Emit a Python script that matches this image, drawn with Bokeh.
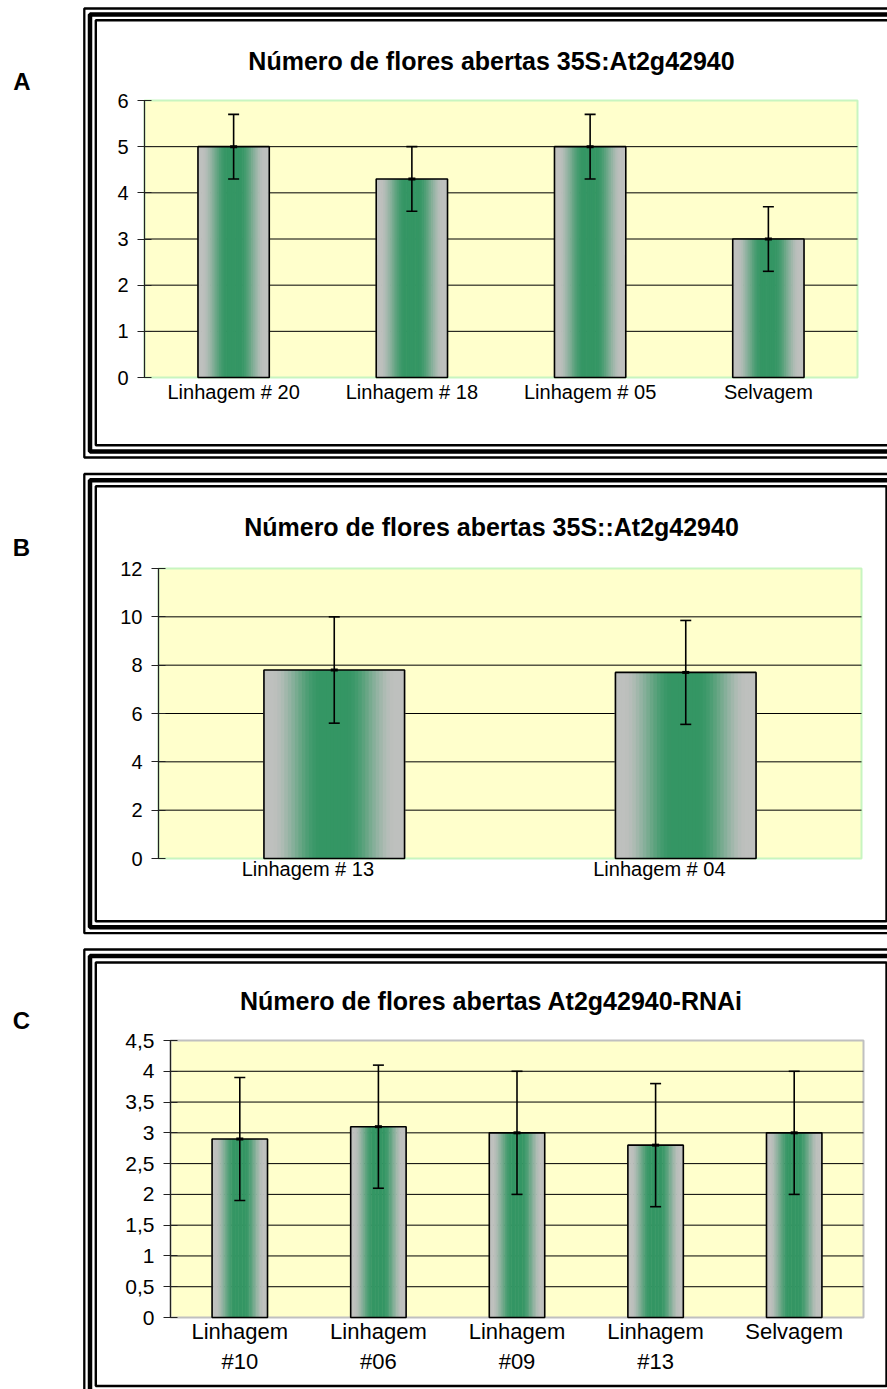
import numpy as np
from bokeh.plotting import figure
from bokeh.models import (Range1d, FixedTicker, Label, Whisker, TeeHead,
                          ColumnDataSource, LinearAxis)
from bokeh.layouts import column
from bokeh.embed import file_html
from bokeh.resources import INLINE

FONT = "Liberation Sans"

# ---------------- data ----------------
a_title = "Número de flores abertas 35S:At2g42940"
a_categories = ["Linhagem # 20", "Linhagem # 18", "Linhagem # 05", "Selvagem"]
a_values = [5.0, 4.3, 5.0, 3.0]
a_errors = [0.7, 0.7, 0.7, 0.7]
a_yticks = [0, 1, 2, 3, 4, 5, 6]
a_ylabels = ["0", "1", "2", "3", "4", "5", "6"]

b_title = "Número de flores abertas 35S::At2g42940"
b_categories = ["Linhagem # 13", "Linhagem # 04"]
b_values = [7.8, 7.7]
b_errors = [2.2, 2.15]
b_yticks = [0, 2, 4, 6, 8, 10, 12]
b_ylabels = ["0", "2", "4", "6", "8", "10", "12"]

c_title = "Número de flores abertas At2g42940-RNAi"
c_categories = ["Linhagem\n#10", "Linhagem\n#06", "Linhagem\n#09", "Linhagem\n#13", "Selvagem"]
c_values = [2.9, 3.1, 3.0, 2.8, 3.0]
c_errors = [1.0, 1.0, 1.0, 1.0, 1.0]
c_yticks = [0, 0.5, 1, 1.5, 2, 2.5, 3, 3.5, 4, 4.5]
c_ylabels = ["0", "0,5", "1", "1,5", "2", "2,5", "3", "3,5", "4", "4,5"]

# ---------------- style ----------------
W = 887
GRAY = np.array([190, 192, 190], dtype=float)
GREEN = np.array([52, 150, 100], dtype=float)
BAR_W = 0.4
NSLICE = 40


def grad_color(t):
    s = np.clip((t - 0.18) / (0.88 - 0.18), 0, 1)
    s = s * s * (3 - 2 * s)
    c = GREEN + (GRAY - GREEN) * s
    return "#%02x%02x%02x" % tuple(int(round(v)) for v in c)


def make_panel(title, cats, vals, errs, yticks, ylabels, height, plot_px,
               borders, letter, letter_xy, title_xy, label_shift,
               label_standoff, tick_size, label_size, outline_color):
    n = len(cats)
    ymax = yticks[-1]
    xl, xr, yt, yb = plot_px          # pixel box of the plotting area
    sx = n / (xr - xl)
    x0, x1 = -xl * sx, n + (W - xr) * sx
    sy = ymax / (yb - yt)
    y0, y1 = -(height - yb) * sy, ymax + yt * sy

    def fx(px):
        return x0 + px * sx

    def fy(py):
        return y1 - py * sy

    p = figure(width=W, height=height, x_range=Range1d(x0, x1),
               y_range=Range1d(y0, y1), x_axis_location=None,
               y_axis_location=None, output_backend="svg",
               toolbar_location=None, min_border=0, title=None)
    p.outline_line_color = None
    p.background_fill_color = "white"
    p.border_fill_color = "white"
    p.xgrid.visible = False
    p.ygrid.visible = False

    # plotting area
    p.quad(left=[0], right=[n], bottom=[0], top=[ymax], fill_color="#FFFFCC",
           line_color=outline_color, line_width=2, level="image")
    gt = yticks[1:-1]
    p.segment(x0=[0] * len(gt), x1=[n] * len(gt), y0=gt, y1=gt,
              line_color="black", line_width=1, level="underlay")

    # y axis
    ya = LinearAxis(fixed_location=0, bounds=(0, ymax),
                    ticker=FixedTicker(ticks=yticks))
    ya.major_label_overrides = {t: l for t, l in zip(yticks, ylabels)}
    ya.axis_line_color = "#222222"
    ya.axis_line_width = 1.2
    ya.major_tick_line_color = "#222222"
    ya.major_tick_in = 7
    ya.major_tick_out = 7
    ya.minor_tick_line_color = None
    ya.major_label_standoff = 9
    ya.major_label_text_font = FONT
    ya.major_label_text_font_size = tick_size
    ya.major_label_text_color = "black"
    p.add_layout(ya, "left")

    # x axis
    centers = [i + 0.5 for i in range(n)]
    lpos = [c + label_shift for c in centers]
    xa = LinearAxis(fixed_location=0, ticker=FixedTicker(ticks=lpos))
    xa.major_label_overrides = {t: l for t, l in zip(lpos, cats)}
    xa.axis_line_color = None
    xa.major_tick_line_color = None
    xa.minor_tick_line_color = None
    xa.major_label_standoff = label_standoff
    xa.major_label_text_font = FONT
    xa.major_label_text_font_size = label_size
    xa.major_label_text_color = "black"
    p.add_layout(xa, "below")

    # gradient bars built from vertical slices
    xs, tops, cols = [], [], []
    sw = BAR_W / NSLICE
    for c, v in zip(centers, vals):
        for k in range(NSLICE):
            off = -BAR_W / 2 + (k + 0.5) * sw
            xs.append(c + off)
            tops.append(v)
            cols.append(grad_color(abs(off) / (BAR_W / 2)))
    src = ColumnDataSource(dict(x=xs, top=tops, color=cols))
    p.vbar(x="x", top="top", bottom=0, width=sw * 1.4, source=src,
           fill_color="color", line_color=None)
    p.vbar(x=centers, top=vals, bottom=0, width=BAR_W, fill_color=None,
           line_color="black", line_width=1.6)

    esrc = ColumnDataSource(dict(x=centers,
                                 upper=[v + e for v, e in zip(vals, errs)],
                                 lower=[v - e for v, e in zip(vals, errs)]))
    head = dict(size=11, line_color="black", line_width=1.6)
    p.add_layout(Whisker(source=esrc, base="x", upper="upper", lower="lower",
                         dimension="height", line_color="black",
                         line_width=1.6, upper_head=TeeHead(**head),
                         lower_head=TeeHead(**head), level="annotation"))
    # small value marker on each error bar
    p.scatter(x=centers, y=vals, marker="dash", size=7, line_width=3,
              line_color="black")

    # triple-line frame around the panel
    for (l, t, r, b, lw) in borders:
        p.quad(left=[fx(l)], right=[fx(r)], top=[fy(t)], bottom=[fy(b)],
               fill_color=None, line_color="black", line_width=lw)

    p.add_layout(Label(x=fx(letter_xy[0]), y=fy(letter_xy[1]), text=letter,
                       text_font=FONT, text_font_size="24px",
                       text_font_style="bold", text_align="center",
                       text_baseline="middle", text_color="black"))
    p.add_layout(Label(x=fx(title_xy[0]), y=fy(title_xy[1]), text=title,
                       text_font=FONT, text_font_size="25px",
                       text_font_style="bold", text_align="center",
                       text_baseline="middle", text_color="black"))
    return p


pA = make_panel(a_title, a_categories, a_values, a_errors, a_yticks, a_ylabels,
                466, (144, 857, 100, 377),
                [(83.8, 8.0, 903, 457.0, 2.3), (89.5, 14.0, 898, 451.0, 4.5),
                 (95.3, 19.7, 889, 444.8, 2.4)],
                "A", (21.5, 80.5), (491, 60), 0.0, -3,
                "20px", "20px", "#C8F5C0")

pB = make_panel(b_title, b_categories, b_values, b_errors, b_yticks, b_ylabels,
                475, (158, 861, 102, 392),
                [(83.8, 7.5, 903, 466.7, 2.3), (89.5, 13.7, 898, 460.7, 4.5),
                 (95.3, 19.7, 886, 454.8, 2.4)],
                "B", (21, 80.5), (491, 60), -0.075, -7,
                "20px", "20px", "#C8F5C0")

pC = make_panel(c_title, c_categories, c_values, c_errors, c_yticks, c_ylabels,
                448, (170, 863, 99, 376),
                [(83.8, 8.0, 903, 456.0, 2.3), (89.5, 14.5, 898, 450.0, 4.5),
                 (95.3, 21.0, 886, 444.5, 2.4)],
                "C", (21, 79), (491, 59), 0.0, -5,
                "21px", "22px", "#C0C0C0")

layout = column(pA, pB, pC, spacing=0)
open("out.html", "w").write(file_html(layout, INLINE))
